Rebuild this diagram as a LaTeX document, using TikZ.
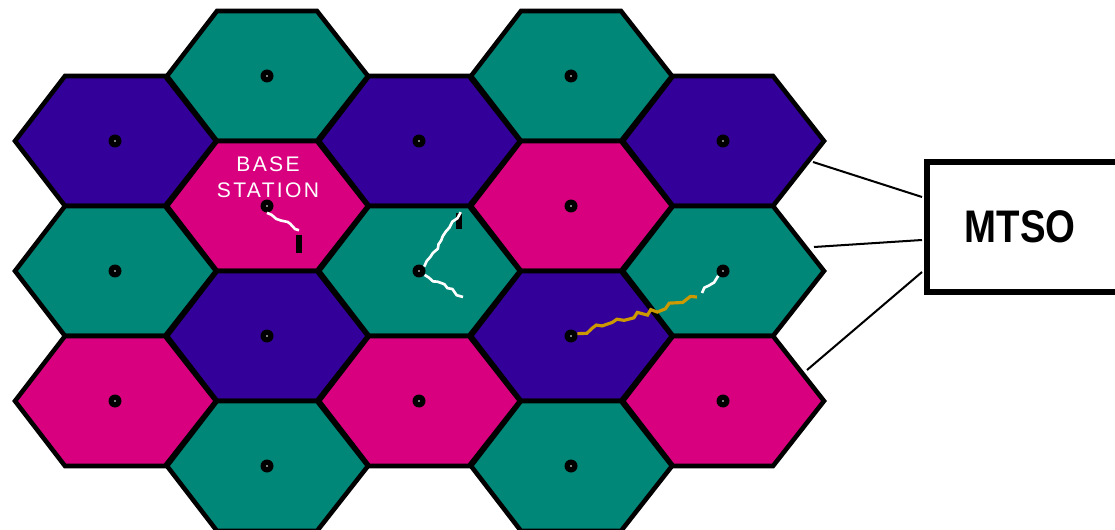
\documentclass[tikz,border=0pt]{standalone}
\usepackage{fontspec}
\setsansfont{Liberation Sans}
\newfontfamily\bsfont[LetterSpace=11]{Liberation Sans}
\newfontfamily\mtsofont[FakeStretch=0.84]{Liberation Sans}
\usetikzlibrary{decorations.pathmorphing}
\definecolor{cellteal}{RGB}{0,135,120}
\definecolor{cellpurple}{RGB}{51,0,153}
\definecolor{cellmagenta}{RGB}{217,0,127}
\definecolor{signalgold}{RGB}{204,153,0}
\tikzset{
  cell/.style={draw=black,line width=2.6pt,line join=miter},
  tower/.style={circle,fill=black,inner sep=0pt,minimum size=.26cm,
    path picture={\fill[white] (path picture bounding box.center) circle (.45pt);}},
  handset/.style={fill=black,inner sep=0pt,minimum width=.12cm,minimum height=.36cm},
  radio/.style={white,line width=1.5pt,line join=miter,decorate,
    decoration={random steps,segment length=3pt,amplitude=1.1pt}},
  link/.style={line width=1.15pt},
  mtsobox/.style={draw=black,line width=3.2pt,fill=white,anchor=west,minimum height=2.61cm,
    text width=3cm,align=left,inner xsep=.76cm,font=\mtsofont\bfseries\fontsize{26}{30}\selectfont},
}
\begin{document}
\begin{tikzpicture}[x=.02cm,y=-.02cm]
  \useasboundingbox (0,0) rectangle (1115,530);
  \clip (0,0) rectangle (1115,530);
  \pgfmathsetseed{7}
  \foreach \c/\k/\col in {
    0/1/cellpurple,0/3/cellteal,0/5/cellmagenta,
    1/0/cellteal,1/2/cellmagenta,1/4/cellpurple,1/6/cellteal,
    2/1/cellpurple,2/3/cellteal,2/5/cellmagenta,
    3/0/cellteal,3/2/cellmagenta,3/4/cellpurple,3/6/cellteal,
    4/1/cellpurple,4/3/cellteal,4/5/cellmagenta}
  {
    \pgfmathsetmacro\cx{115+152*\c}
    \pgfmathsetmacro\cy{76+65*\k}
    \draw[cell,fill=\col] (\cx-100,\cy) -- (\cx-50,\cy-65) -- (\cx+50,\cy-65)
      -- (\cx+101,\cy) -- (\cx+50,\cy+65) -- (\cx-50,\cy+65) -- cycle;
    \node[tower] (t\c\k) at (\cx,\cy) {};
  }
  \node[white,align=center,font=\bsfont\fontsize{12}{14.7}\selectfont] (bslabel) at (268,177) {BASE\\STATION};
  \node[handset] (p1) at (299,244) {};
  \node[handset,minimum height=.34cm] (p2) at (459,221) {};
  \coordinate (m1) at (463,297);
  \coordinate (m2) at (697,297);
  \coordinate (m3) at (702,293);
  \draw[radio] (t12.south) -- ([yshift=2.5pt]p1.north);
  \draw[radio] (t23.40) -- ([xshift=1pt]p2.north);
  \draw[radio] (t23.-35) -- (m1);
  \draw[radio,signalgold,line width=1.8pt,decoration={amplitude=1.6pt,segment length=4pt}] (t34.20) -- (m2);
  \draw[radio] (m3) -- (t43.south west);
  \node[mtsobox] (mtso) at (924,227) {MTSO};
  \coordinate (h1) at (813,162);
  \coordinate (h2) at (814,247);
  \coordinate (h3) at (807,370);
  \coordinate (e1) at (922,197);
  \coordinate (e2) at (922,240);
  \coordinate (e3) at (922,272);
  \foreach \n in {1,2,3}
    \draw[link] (h\n) -- (e\n);
\end{tikzpicture}
\end{document}
